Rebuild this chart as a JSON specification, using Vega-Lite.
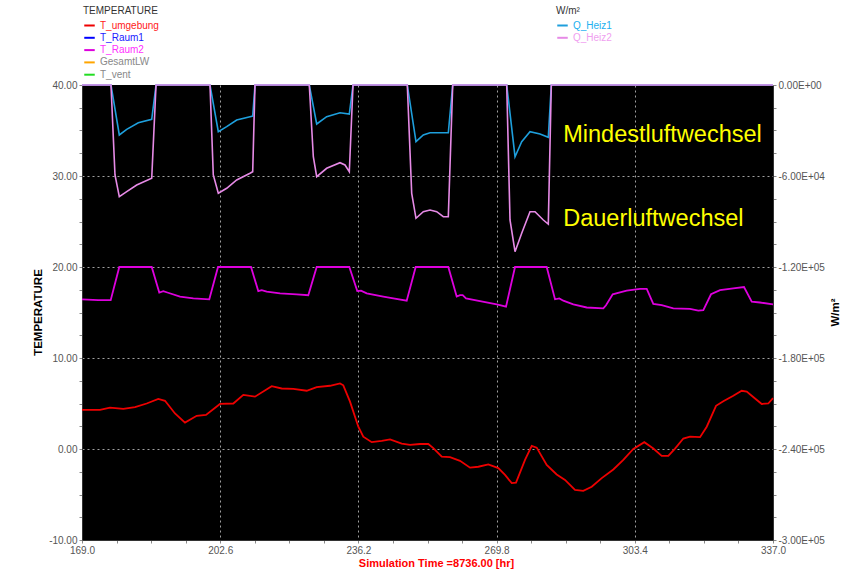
{
  "$schema": "https://vega.github.io/schema/vega-lite/v6.json",
  "width": 691,
  "height": 455,
  "autosize": {"type": "none"},
  "padding": {"left": 82, "top": 85, "right": 71, "bottom": 43},
  "background": "#ffffff",
  "config": {
    "font": "Liberation Sans",
    "view": {"fill": "#000000", "stroke": null},
    "axis": {"labelFont": "Liberation Sans", "titleFont": "Liberation Sans"},
    "legend": {"labelFont": "Liberation Sans", "titleFont": "Liberation Sans"}
  },
  "datasets": {
    "temps": [
      {"series": "T_umgebung", "t": 169.0, "T": 4.3},
      {"series": "T_umgebung", "t": 173.38, "T": 4.3},
      {"series": "T_umgebung", "t": 175.81, "T": 4.55},
      {"series": "T_umgebung", "t": 179.04, "T": 4.4},
      {"series": "T_umgebung", "t": 181.89, "T": 4.6},
      {"series": "T_umgebung", "t": 184.73, "T": 5.0},
      {"series": "T_umgebung", "t": 187.55, "T": 5.5},
      {"series": "T_umgebung", "t": 189.18, "T": 5.3},
      {"series": "T_umgebung", "t": 191.61, "T": 3.9},
      {"series": "T_umgebung", "t": 194.04, "T": 2.9},
      {"series": "T_umgebung", "t": 196.89, "T": 3.65},
      {"series": "T_umgebung", "t": 199.15, "T": 3.75},
      {"series": "T_umgebung", "t": 202.55, "T": 4.95},
      {"series": "T_umgebung", "t": 205.79, "T": 5.0},
      {"series": "T_umgebung", "t": 208.22, "T": 5.95},
      {"series": "T_umgebung", "t": 211.06, "T": 5.75},
      {"series": "T_umgebung", "t": 215.12, "T": 6.9},
      {"series": "T_umgebung", "t": 217.55, "T": 6.65},
      {"series": "T_umgebung", "t": 220.37, "T": 6.6},
      {"series": "T_umgebung", "t": 223.63, "T": 6.4},
      {"series": "T_umgebung", "t": 226.06, "T": 6.8},
      {"series": "T_umgebung", "t": 229.3, "T": 6.95},
      {"series": "T_umgebung", "t": 231.73, "T": 7.2},
      {"series": "T_umgebung", "t": 232.53, "T": 7.0},
      {"series": "T_umgebung", "t": 234.16, "T": 5.2},
      {"series": "T_umgebung", "t": 236.18, "T": 2.45},
      {"series": "T_umgebung", "t": 237.39, "T": 1.35},
      {"series": "T_umgebung", "t": 239.44, "T": 0.75},
      {"series": "T_umgebung", "t": 241.87, "T": 0.9},
      {"series": "T_umgebung", "t": 243.89, "T": 1.05},
      {"series": "T_umgebung", "t": 246.73, "T": 0.6},
      {"series": "T_umgebung", "t": 248.75, "T": 0.45},
      {"series": "T_umgebung", "t": 251.18, "T": 0.55},
      {"series": "T_umgebung", "t": 253.2, "T": 0.55},
      {"series": "T_umgebung", "t": 254.41, "T": 0.1},
      {"series": "T_umgebung", "t": 256.46, "T": -0.85},
      {"series": "T_umgebung", "t": 258.47, "T": -0.9},
      {"series": "T_umgebung", "t": 260.9, "T": -1.3},
      {"series": "T_umgebung", "t": 263.34, "T": -2.05},
      {"series": "T_umgebung", "t": 265.36, "T": -1.95},
      {"series": "T_umgebung", "t": 267.79, "T": -1.7},
      {"series": "T_umgebung", "t": 270.22, "T": -2.1},
      {"series": "T_umgebung", "t": 271.85, "T": -2.85},
      {"series": "T_umgebung", "t": 273.48, "T": -3.75},
      {"series": "T_umgebung", "t": 274.52, "T": -3.7},
      {"series": "T_umgebung", "t": 276.71, "T": -1.2},
      {"series": "T_umgebung", "t": 278.34, "T": 0.35},
      {"series": "T_umgebung", "t": 279.55, "T": 0.15},
      {"series": "T_umgebung", "t": 281.98, "T": -1.75},
      {"series": "T_umgebung", "t": 284.41, "T": -2.8},
      {"series": "T_umgebung", "t": 286.43, "T": -3.4},
      {"series": "T_umgebung", "t": 288.86, "T": -4.5},
      {"series": "T_umgebung", "t": 290.88, "T": -4.6},
      {"series": "T_umgebung", "t": 292.92, "T": -4.15},
      {"series": "T_umgebung", "t": 295.36, "T": -3.2},
      {"series": "T_umgebung", "t": 298.18, "T": -2.25},
      {"series": "T_umgebung", "t": 300.61, "T": -1.2},
      {"series": "T_umgebung", "t": 303.04, "T": 0.0},
      {"series": "T_umgebung", "t": 305.71, "T": 0.75},
      {"series": "T_umgebung", "t": 307.9, "T": 0.05},
      {"series": "T_umgebung", "t": 309.94, "T": -0.75},
      {"series": "T_umgebung", "t": 311.55, "T": -0.75},
      {"series": "T_umgebung", "t": 313.18, "T": 0.05},
      {"series": "T_umgebung", "t": 315.2, "T": 1.15},
      {"series": "T_umgebung", "t": 316.83, "T": 1.35},
      {"series": "T_umgebung", "t": 319.26, "T": 1.3},
      {"series": "T_umgebung", "t": 320.89, "T": 2.45},
      {"series": "T_umgebung", "t": 323.15, "T": 4.75},
      {"series": "T_umgebung", "t": 324.92, "T": 5.25},
      {"series": "T_umgebung", "t": 327.35, "T": 5.85},
      {"series": "T_umgebung", "t": 329.39, "T": 6.4},
      {"series": "T_umgebung", "t": 330.61, "T": 6.3},
      {"series": "T_umgebung", "t": 332.63, "T": 5.55},
      {"series": "T_umgebung", "t": 334.26, "T": 4.95},
      {"series": "T_umgebung", "t": 335.86, "T": 5.0},
      {"series": "T_umgebung", "t": 337.0, "T": 5.6},
      {"series": "T_Raum2", "t": 169.0, "T": 16.45},
      {"series": "T_Raum2", "t": 172.96, "T": 16.35},
      {"series": "T_Raum2", "t": 175.98, "T": 16.35},
      {"series": "T_Raum2", "t": 178.07, "T": 20},
      {"series": "T_Raum2", "t": 185.95, "T": 20},
      {"series": "T_Raum2", "t": 187.79, "T": 17.2},
      {"series": "T_Raum2", "t": 188.77, "T": 17.35},
      {"series": "T_Raum2", "t": 189.74, "T": 17.2},
      {"series": "T_Raum2", "t": 192.83, "T": 16.75},
      {"series": "T_Raum2", "t": 196.06, "T": 16.55},
      {"series": "T_Raum2", "t": 199.95, "T": 16.45},
      {"series": "T_Raum2", "t": 202.07, "T": 20},
      {"series": "T_Raum2", "t": 210.09, "T": 20},
      {"series": "T_Raum2", "t": 211.86, "T": 17.35},
      {"series": "T_Raum2", "t": 212.69, "T": 17.45},
      {"series": "T_Raum2", "t": 213.91, "T": 17.3},
      {"series": "T_Raum2", "t": 217.14, "T": 17.1},
      {"series": "T_Raum2", "t": 221.2, "T": 17.0},
      {"series": "T_Raum2", "t": 224.02, "T": 16.9},
      {"series": "T_Raum2", "t": 226.06, "T": 20},
      {"series": "T_Raum2", "t": 233.99, "T": 20},
      {"series": "T_Raum2", "t": 235.93, "T": 17.35},
      {"series": "T_Raum2", "t": 236.83, "T": 17.4},
      {"series": "T_Raum2", "t": 238.22, "T": 17.1},
      {"series": "T_Raum2", "t": 242.26, "T": 16.75},
      {"series": "T_Raum2", "t": 244.69, "T": 16.55},
      {"series": "T_Raum2", "t": 247.94, "T": 16.3},
      {"series": "T_Raum2", "t": 250.13, "T": 20},
      {"series": "T_Raum2", "t": 258.06, "T": 20},
      {"series": "T_Raum2", "t": 260.1, "T": 16.75},
      {"series": "T_Raum2", "t": 260.9, "T": 16.9},
      {"series": "T_Raum2", "t": 261.56, "T": 16.9},
      {"series": "T_Raum2", "t": 262.36, "T": 16.55},
      {"series": "T_Raum2", "t": 265.77, "T": 16.25},
      {"series": "T_Raum2", "t": 269.83, "T": 15.9},
      {"series": "T_Raum2", "t": 272.09, "T": 15.65},
      {"series": "T_Raum2", "t": 274.28, "T": 20},
      {"series": "T_Raum2", "t": 281.98, "T": 20},
      {"series": "T_Raum2", "t": 284.0, "T": 16.45},
      {"series": "T_Raum2", "t": 285.05, "T": 16.55},
      {"series": "T_Raum2", "t": 286.02, "T": 16.3},
      {"series": "T_Raum2", "t": 288.45, "T": 15.9},
      {"series": "T_Raum2", "t": 291.71, "T": 15.55},
      {"series": "T_Raum2", "t": 295.75, "T": 15.45},
      {"series": "T_Raum2", "t": 296.4, "T": 15.8},
      {"series": "T_Raum2", "t": 298.03, "T": 17.0},
      {"series": "T_Raum2", "t": 299.8, "T": 17.2},
      {"series": "T_Raum2", "t": 301.43, "T": 17.4},
      {"series": "T_Raum2", "t": 304.67, "T": 17.6},
      {"series": "T_Raum2", "t": 306.3, "T": 17.6},
      {"series": "T_Raum2", "t": 307.9, "T": 15.95},
      {"series": "T_Raum2", "t": 309.94, "T": 15.8},
      {"series": "T_Raum2", "t": 312.76, "T": 15.45},
      {"series": "T_Raum2", "t": 316.82, "T": 15.4},
      {"series": "T_Raum2", "t": 318.84, "T": 15.2},
      {"series": "T_Raum2", "t": 320.06, "T": 15.25},
      {"series": "T_Raum2", "t": 321.93, "T": 17.0},
      {"series": "T_Raum2", "t": 324.12, "T": 17.45},
      {"series": "T_Raum2", "t": 327.35, "T": 17.65},
      {"series": "T_Raum2", "t": 329.95, "T": 17.8},
      {"series": "T_Raum2", "t": 331.83, "T": 16.2},
      {"series": "T_Raum2", "t": 333.84, "T": 16.1},
      {"series": "T_Raum2", "t": 337.0, "T": 15.9}
    ],
    "heat": [
      {"series": "Q_Heiz1", "t": 169.0, "Q": 0},
      {"series": "Q_Heiz1", "t": 176.05, "Q": 0},
      {"series": "Q_Heiz1", "t": 178.07, "Q": -32967},
      {"series": "Q_Heiz1", "t": 179.87, "Q": -29209},
      {"series": "Q_Heiz1", "t": 182.69, "Q": -24857},
      {"series": "Q_Heiz1", "t": 185.95, "Q": -22615},
      {"series": "Q_Heiz1", "t": 187.0, "Q": 0},
      {"series": "Q_Heiz1", "t": 200.12, "Q": 0},
      {"series": "Q_Heiz1", "t": 202.14, "Q": -30790},
      {"series": "Q_Heiz1", "t": 204.18, "Q": -27493},
      {"series": "Q_Heiz1", "t": 206.61, "Q": -23077},
      {"series": "Q_Heiz1", "t": 209.85, "Q": -20901},
      {"series": "Q_Heiz1", "t": 210.5, "Q": -20439},
      {"series": "Q_Heiz1", "t": 211.06, "Q": 0},
      {"series": "Q_Heiz1", "t": 224.26, "Q": 0},
      {"series": "Q_Heiz1", "t": 226.06, "Q": -25714},
      {"series": "Q_Heiz1", "t": 228.49, "Q": -20901},
      {"series": "Q_Heiz1", "t": 231.73, "Q": -18263},
      {"series": "Q_Heiz1", "t": 233.99, "Q": -19120},
      {"series": "Q_Heiz1", "t": 234.89, "Q": 0},
      {"series": "Q_Heiz1", "t": 248.09, "Q": 0},
      {"series": "Q_Heiz1", "t": 250.2, "Q": -37384},
      {"series": "Q_Heiz1", "t": 251.98, "Q": -32967},
      {"series": "Q_Heiz1", "t": 253.61, "Q": -31450},
      {"series": "Q_Heiz1", "t": 258.06, "Q": -31450},
      {"series": "Q_Heiz1", "t": 259.13, "Q": 0},
      {"series": "Q_Heiz1", "t": 272.26, "Q": 0},
      {"series": "Q_Heiz1", "t": 274.28, "Q": -47275},
      {"series": "Q_Heiz1", "t": 275.9, "Q": -37384},
      {"series": "Q_Heiz1", "t": 277.92, "Q": -30790},
      {"series": "Q_Heiz1", "t": 280.35, "Q": -32307},
      {"series": "Q_Heiz1", "t": 282.37, "Q": -34483},
      {"series": "Q_Heiz1", "t": 283.1, "Q": 0},
      {"series": "Q_Heiz1", "t": 337.0, "Q": 0},
      {"series": "Q_Heiz2", "t": 169.0, "Q": 0},
      {"series": "Q_Heiz2", "t": 176.05, "Q": 0},
      {"series": "Q_Heiz2", "t": 177.02, "Q": -59341},
      {"series": "Q_Heiz2", "t": 178.07, "Q": -73648},
      {"series": "Q_Heiz2", "t": 179.87, "Q": -70351},
      {"series": "Q_Heiz2", "t": 182.3, "Q": -65934},
      {"series": "Q_Heiz2", "t": 185.95, "Q": -61516},
      {"series": "Q_Heiz2", "t": 187.0, "Q": 0},
      {"series": "Q_Heiz2", "t": 200.12, "Q": 0},
      {"series": "Q_Heiz2", "t": 200.92, "Q": -59341},
      {"series": "Q_Heiz2", "t": 202.14, "Q": -71404},
      {"series": "Q_Heiz2", "t": 204.18, "Q": -68108},
      {"series": "Q_Heiz2", "t": 206.61, "Q": -62637},
      {"series": "Q_Heiz2", "t": 209.85, "Q": -58220},
      {"series": "Q_Heiz2", "t": 210.5, "Q": -57165},
      {"series": "Q_Heiz2", "t": 211.06, "Q": 0},
      {"series": "Q_Heiz2", "t": 224.26, "Q": 0},
      {"series": "Q_Heiz2", "t": 225.24, "Q": -47275},
      {"series": "Q_Heiz2", "t": 226.06, "Q": -60461},
      {"series": "Q_Heiz2", "t": 228.49, "Q": -54923},
      {"series": "Q_Heiz2", "t": 231.73, "Q": -51231},
      {"series": "Q_Heiz2", "t": 232.94, "Q": -52747},
      {"series": "Q_Heiz2", "t": 233.99, "Q": -57165},
      {"series": "Q_Heiz2", "t": 234.89, "Q": 0},
      {"series": "Q_Heiz2", "t": 248.09, "Q": 0},
      {"series": "Q_Heiz2", "t": 249.16, "Q": -71404},
      {"series": "Q_Heiz2", "t": 250.2, "Q": -87887},
      {"series": "Q_Heiz2", "t": 251.98, "Q": -83536},
      {"series": "Q_Heiz2", "t": 253.61, "Q": -82415},
      {"series": "Q_Heiz2", "t": 255.24, "Q": -83536},
      {"series": "Q_Heiz2", "t": 256.84, "Q": -86832},
      {"series": "Q_Heiz2", "t": 258.06, "Q": -86832},
      {"series": "Q_Heiz2", "t": 259.13, "Q": 0},
      {"series": "Q_Heiz2", "t": 272.26, "Q": 0},
      {"series": "Q_Heiz2", "t": 273.06, "Q": -89011},
      {"series": "Q_Heiz2", "t": 274.28, "Q": -109909},
      {"series": "Q_Heiz2", "t": 275.9, "Q": -97776},
      {"series": "Q_Heiz2", "t": 277.92, "Q": -83536},
      {"series": "Q_Heiz2", "t": 279.14, "Q": -83536},
      {"series": "Q_Heiz2", "t": 281.16, "Q": -89011},
      {"series": "Q_Heiz2", "t": 282.37, "Q": -91648},
      {"series": "Q_Heiz2", "t": 283.1, "Q": 0},
      {"series": "Q_Heiz2", "t": 337.0, "Q": 0}
    ],
    "notes": [
      {"label": "Mindestluftwechsel", "t": 286.0, "T": 33.7},
      {"label": "Dauerluftwechsel", "t": 286.0, "T": 24.5}
    ]
  },
  "encoding": {
    "x": {
      "field": "t",
      "type": "quantitative",
      "scale": {"domain": [169, 337], "nice": false, "zero": false},
      "axis": {
        "values": [169, 177.4, 185.8, 194.2, 202.6, 211, 219.4, 227.8, 236.2, 244.6, 253, 261.4, 269.8, 278.2, 286.6, 295, 303.4, 311.8, 320.2, 328.6, 337],
        "labelExpr": "round((datum.value - 169) / 8.4) % 4 == 0 ? format(datum.value, '.1f') : ''",
        "labelOverlap": false,
        "labelFlush": false,
        "labelBound": false,
        "labelFontSize": 10,
        "labelColor": "#555555",
        "labelPadding": 2,
        "tickSize": 3,
        "tickColor": "#888888",
        "domainColor": "#333333",
        "grid": true,
        "gridColor": "#a0a0a0",
        "gridDash": [2, 3],
        "gridWidth": 1,
        "gridOpacity": {"condition": {"test": "round((datum.value - 169) / 8.4) % 4 == 0 && datum.value > 170 && datum.value < 336", "value": 1}, "value": 0},
        "title": "Simulation Time =8736.00 [hr]",
        "titleColor": "#ff0000",
        "titleFontSize": 11,
        "titleFontWeight": "bold",
        "titleX": 354,
        "titleY": 23,
        "titleBaseline": "middle",
        "titleAlign": "center"
      }
    }
  },
  "layer": [
    {
      "encoding": {
        "y": {
          "field": "T",
          "type": "quantitative",
          "scale": {"domain": [-10, 40], "nice": false, "zero": false},
          "axis": {
            "orient": "left",
            "values": [-10, -7.5, -5, -2.5, 0, 2.5, 5, 7.5, 10, 12.5, 15, 17.5, 20, 22.5, 25, 27.5, 30, 32.5, 35, 37.5, 40],
            "labelExpr": "datum.value % 10 == 0 ? (datum.value < 0 ? '-' : '') + format(abs(datum.value), '.2f') : ''",
            "labelOverlap": false,
            "labelFlush": false,
            "labelBound": false,
            "labelFontSize": 10,
            "labelColor": "#555555",
            "labelPadding": 2,
            "tickSize": 3,
            "tickColor": "#888888",
            "domainColor": "#333333",
            "grid": true,
            "gridColor": "#a0a0a0",
            "gridDash": [2, 3],
            "gridWidth": 1,
            "gridOpacity": {"condition": {"test": "datum.value % 10 == 0 && datum.value > -10 && datum.value < 40", "value": 1}, "value": 0},
            "title": "TEMPERATURE",
            "titleColor": "#000000",
            "titleFontSize": 11.5,
            "titleFontWeight": "bold",
            "titleAngle": 270,
            "titleX": -44,
            "titleY": 227,
            "titleBaseline": "middle",
            "titleAlign": "center"
          }
        }
      },
      "layer": [
        {
          "data": {"name": "temps"},
          "mark": {"type": "line", "strokeWidth": 1.8, "clip": false},
          "encoding": {
            "color": {
              "field": "series",
              "type": "nominal",
              "scale": {
                "domain": ["T_umgebung", "T_Raum1", "T_Raum2", "GesamtLW", "T_vent"],
                "range": ["#ee0000", "#0000ff", "#dd00dd", "#ffa500", "#22dd22"]
              },
              "legend": {
                "orient": "none",
                "legendX": 1,
                "legendY": -79,
                "title": "TEMPERATURE",
                "titleFontSize": 10,
                "titleFontWeight": "normal",
                "titleColor": "#333333",
                "titlePadding": 3,
                "symbolType": "stroke",
                "symbolStrokeWidth": 2,
                "symbolSize": 110,
                "labelFontSize": 10,
                "labelOffset": 4,
                "rowPadding": 0.3,
                "labelColor": {"expr": "datum.label == 'T_umgebung' ? '#ff2020' : datum.label == 'T_Raum1' ? '#2020ff' : datum.label == 'T_Raum2' ? '#ff30ff' : '#888888'"}
              }
            }
          }
        },
        {
          "data": {"name": "notes"},
          "mark": {"type": "text", "color": "#ffff00", "fontSize": 23.5, "align": "left", "baseline": "alphabetic", "font": "Liberation Sans"},
          "encoding": {
            "text": {"field": "label"}
          }
        }
      ]
    },
    {
      "data": {"name": "heat"},
      "mark": {"type": "line", "strokeWidth": 1.6, "clip": false},
      "encoding": {
        "y": {
          "field": "Q",
          "type": "quantitative",
          "scale": {"domain": [-300000, 0], "nice": false, "zero": false},
          "axis": {
            "orient": "right",
            "values": [-300000, -285000, -270000, -255000, -240000, -225000, -210000, -195000, -180000, -165000, -150000, -135000, -120000, -105000, -90000, -75000, -60000, -45000, -30000, -15000, 0],
            "labelExpr": "datum.value % 60000 == 0 ? (datum.value == 0 ? '0.00E+00' : (datum.value < 0 ? '-' : '') + format(abs(datum.value) / pow(10, floor(log(abs(datum.value)) / LN10)), '.2f') + 'E+0' + floor(log(abs(datum.value)) / LN10)) : ''",
            "labelOverlap": false,
            "labelFlush": false,
            "labelBound": false,
            "labelFontSize": 10,
            "labelColor": "#555555",
            "labelPadding": 2,
            "tickSize": 3,
            "tickColor": "#888888",
            "domainColor": "#333333",
            "grid": false,
            "title": "W/m²",
            "titleColor": "#000000",
            "titleFontSize": 11.5,
            "titleFontWeight": "bold",
            "titleAngle": 270,
            "titleX": 62,
            "titleY": 227,
            "titleBaseline": "middle",
            "titleAlign": "center"
          }
        },
        "color": {
          "field": "series",
          "type": "nominal",
          "scale": {"domain": ["Q_Heiz1", "Q_Heiz2"], "range": ["#1e9fdc", "#e68ae6"]},
          "legend": {
            "orient": "none",
            "legendX": 474,
            "legendY": -79,
            "title": "W/m²",
            "titleFontSize": 10,
            "titleFontWeight": "normal",
            "titleColor": "#333333",
            "titlePadding": 3,
            "symbolType": "stroke",
            "symbolStrokeWidth": 2,
            "symbolSize": 110,
            "labelFontSize": 10,
            "labelOffset": 4,
            "rowPadding": 0.3,
            "labelColor": {"expr": "datum.label == 'Q_Heiz1' ? '#22b0f0' : '#f0a0f0'"}
          }
        }
      }
    }
  ],
  "resolve": {"scale": {"y": "independent", "color": "independent"}}
}
